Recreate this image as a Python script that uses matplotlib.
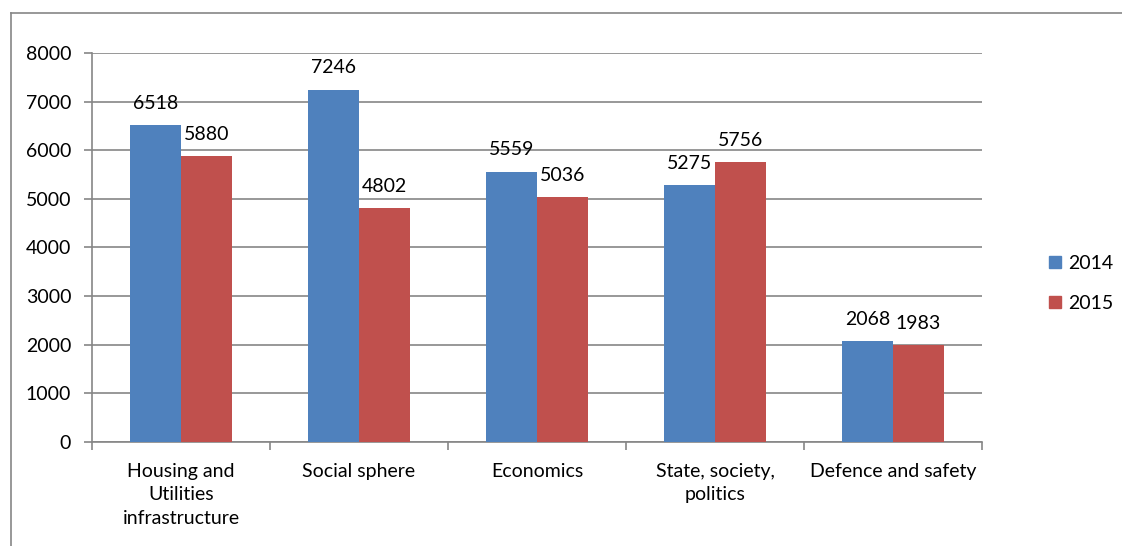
import matplotlib
matplotlib.use("Agg")
import matplotlib.pyplot as plt
import numpy as np
from matplotlib.lines import Line2D

categories = ["Housing and\nUtilities\ninfrastructure", "Social sphere", "Economics",
              "State, society,\npolitics", "Defence and safety"]
series_names = ["2014", "2015"]
values_2014 = [6518, 7246, 5559, 5275, 2068]
values_2015 = [5880, 4802, 5036, 5756, 1983]
yticks = [0, 1000, 2000, 3000, 4000, 5000, 6000, 7000, 8000]

plt.rcParams['font.family'] = ['Lato', 'DejaVu Sans']
FS = 14
W, H = 1122, 546
fig = plt.figure(figsize=(W/100, H/100), dpi=100)
ax = fig.add_axes([92/W, 1-441.7/H, (982-92)/W, (441.7-53)/H])

x = np.arange(len(categories))
bw = 1/3.5
colors = ["#4F81BD", "#C0504D"]
for i, (vals, name) in enumerate(zip([values_2014, values_2015], series_names)):
    pos = x + (i-0.5)*bw
    ax.bar(pos, vals, width=bw, color=colors[i], label=name, zorder=3,
           edgecolor='none')
    for p, v in zip(pos, vals):
        ax.annotate(str(v), (p, v), xytext=(0, 9.5), textcoords='offset points',
                    ha='center', va='bottom', fontsize=FS, color='black')

ax.set_xlim(-0.5, len(categories)-0.5)
ax.set_ylim(0, 8000)
ax.set_yticks(yticks)
ax.set_yticklabels([str(t) for t in yticks], fontsize=FS)
ax.yaxis.grid(True, color='#868686', linewidth=1.2, zorder=0)
ax.set_xticks(np.arange(len(categories)+1)-0.5)
ax.set_xticks(x, minor=True)
ax.set_xticklabels([], minor=False)
ax.set_xticklabels(categories, minor=True, fontsize=FS, linespacing=1.48)
ax.tick_params(axis='x', which='minor', length=0, pad=15)
ax.tick_params(axis='x', which='major', length=6, width=1.2, color='#868686', direction='out')
ax.tick_params(axis='y', length=6, width=1.2, color='#868686', direction='out', pad=9)
for s in ['top', 'right']:
    ax.spines[s].set_visible(False)
for s in ['left', 'bottom']:
    ax.spines[s].set_color('#868686')
    ax.spines[s].set_linewidth(1.2)

handles = [plt.Rectangle((0, 0), 1, 1, color=c) for c in colors]
leg = fig.legend(handles, series_names, loc='upper left',
                 bbox_to_anchor=(1043/W, 1-249/H), frameon=False, fontsize=FS,
                 handlelength=0.6, handleheight=0.6, handletextpad=0.4,
                 labelspacing=1.2, borderaxespad=0, borderpad=0.3)

# outer chart border (left and top)
fig.add_artist(Line2D([11/W, 11/W], [0, 1-13/H], transform=fig.transFigure,
                      color='#868686', linewidth=1.2))
fig.add_artist(Line2D([11/W, 1], [1-13/H, 1-13/H], transform=fig.transFigure,
                      color='#868686', linewidth=1.2))

fig.savefig("out.png", dpi=100)
